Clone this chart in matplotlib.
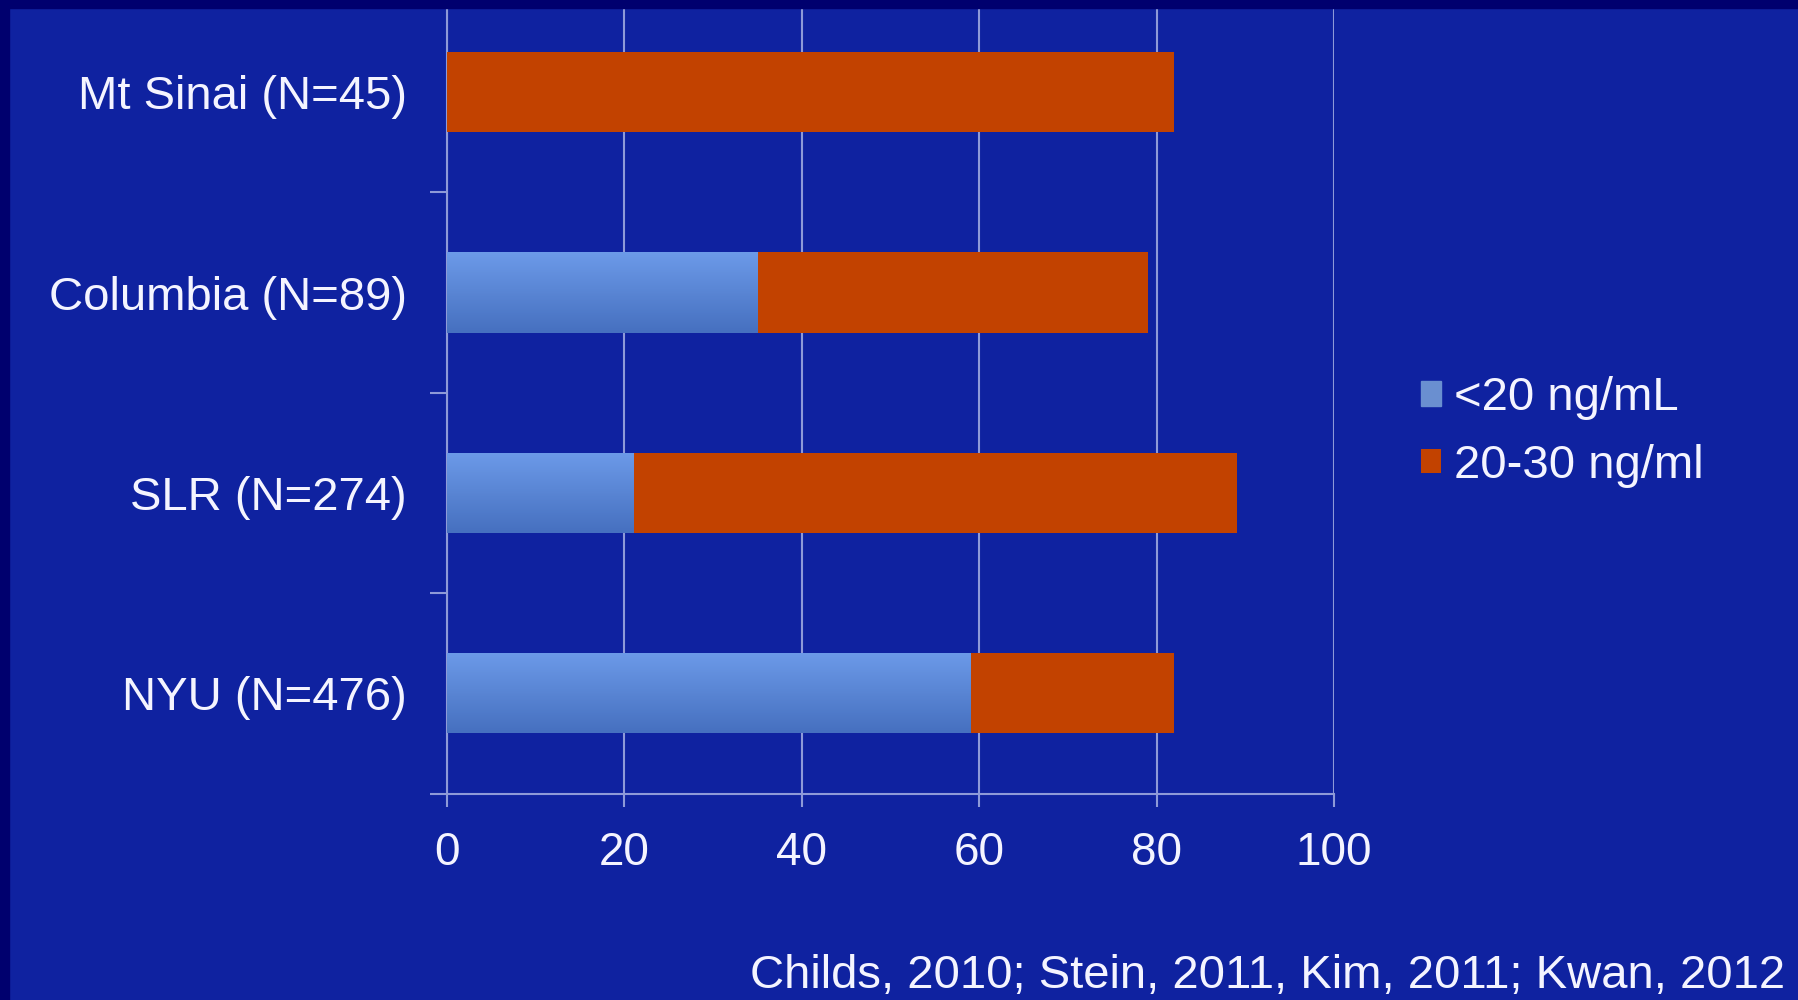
import numpy as np
import matplotlib.pyplot as plt
from matplotlib.patches import Rectangle

plt.rcParams['font.family'] = ['Liberation Sans', 'DejaVu Sans']

sites = ['NYU (N=476)', 'SLR (N=274)', 'Columbia (N=89)', 'Mt Sinai (N=45)']
below_20 = [59, 21, 35, 0]
from_20_to_30 = [23, 68, 44, 82]
x_ticks = [0, 20, 40, 60, 80, 100]
series_names = ['<20 ng/mL', '20-30 ng/ml']
source = 'Childs, 2010; Stein, 2011, Kim, 2011; Kwan, 2012'

bg = '#0f22a0'
navy = '#00006e'
orange = '#c24200'
blue = '#5a86d6'
grid_col = '#8e9ad8'
txt = '#f4f4ff'

fig = plt.figure(figsize=(17.98, 10), dpi=100, facecolor=bg)
ax = fig.add_axes([0.2486, 0.2065, 0.742 - 0.2486, 1.008 - 0.2065])
ax.set_facecolor(bg)

ypos = np.arange(len(sites))
bars_blue = ax.barh(ypos, below_20, height=0.4, color=blue, zorder=3,
                    label=series_names[0])
ax.barh(ypos, from_20_to_30, left=below_20, height=0.4, color=orange,
        zorder=3, label=series_names[1])

# vertical shading on the blue bars
grad = np.linspace(0, 1, 64).reshape(-1, 1)
cmap = plt.matplotlib.colors.LinearSegmentedColormap.from_list(
    'bl', ['#4670c0', '#6c9ae8'])
for b in bars_blue:
    if b.get_width() <= 0:
        continue
    x0, y0 = b.get_x(), b.get_y()
    im = ax.imshow(grad, extent=[x0, x0 + b.get_width(), y0, y0 + b.get_height()],
                   origin='lower', cmap=cmap, aspect='auto', zorder=4)
    im.set_clip_path(b)

ax.set_xlim(0, 100)
ax.set_ylim(-0.5, 3.5)
ax.set_xticks(x_ticks)
ax.set_xticklabels([str(v) for v in x_ticks], fontsize=33, color=txt)
ax.tick_params(axis='x', length=9, width=1.5, color=grid_col, pad=18)
ax.xaxis.grid(True, color=grid_col, linewidth=1.5, zorder=1)

ax.set_yticks(ypos - 0.5)
ax.set_yticklabels([])
ax.tick_params(axis='y', which='major', length=12, width=1.5, color=grid_col)
ax.set_yticks(ypos, minor=True)
ax.set_yticklabels(sites, minor=True, fontsize=34, color=txt)
ax.tick_params(axis='y', which='minor', length=0, pad=29)

for s in ['top', 'right']:
    ax.spines[s].set_visible(False)
for s in ['left', 'bottom']:
    ax.spines[s].set_color(grid_col)
    ax.spines[s].set_linewidth(1.5)

leg = ax.legend(loc='center left', bbox_to_anchor=(0.780, 0.568),
                bbox_transform=fig.transFigure, frameon=False, fontsize=34,
                handlelength=0.42, handleheight=0.42, handletextpad=0.28,
                labelspacing=0.5, borderaxespad=0)
for t in leg.get_texts():
    t.set_color(txt)
leg.legend_handles[0].set_color('#6a8fd0')

fig.text(0.993, 0.012, source, ha='right', va='baseline', fontsize=34,
         color=txt)

# dark slide frame along top and left
fig.patches.append(Rectangle((0, 0.992), 1, 0.008, transform=fig.transFigure,
                             color=navy, zorder=10))
fig.patches.append(Rectangle((0, 0), 0.005, 1, transform=fig.transFigure,
                             color=navy, zorder=10))

fig.savefig('out.png', dpi=100, facecolor=bg)
